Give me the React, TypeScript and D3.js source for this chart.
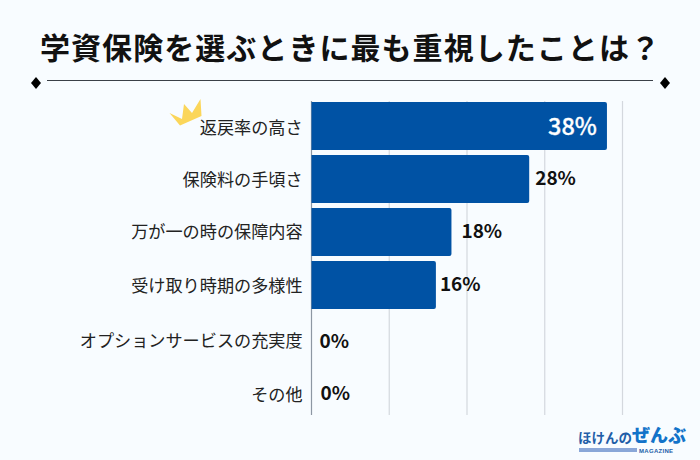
import React from "react";
import * as d3 from "d3";

const title = "学資保険を選ぶときに最も重視したことは？";
const categories = ["返戻率の高さ", "保険料の手頃さ", "万が一の時の保障内容", "受け取り時期の多様性", "オプションサービスの充実度", "その他"];
const values = [38, 28, 18, 16, 0, 0];
const ticks = [0, 10, 20, 30, 40];

const JP = "'Noto Sans CJK JP', 'Noto Sans', sans-serif";
const BLUE = "#0052a4";
const labelShift = [1.5, 1, 0, 1, 3, 4];
const valueShiftY = [0, -1, -1, -1, 3, 2];
const valueShiftX = [-10, 6, 10, 4, 8, 9];

export default function App() {
  const x = d3.scaleLinear().domain([0, 40]).range([311.5, 622.5]);
  const y = d3.scaleBand<string>().domain(categories).range([99.5, 417.5]).paddingInner(5 / 53).paddingOuter(2.5 / 53);
  const crown = d3.line()([[169.5, 113], [182, 119], [184, 104], [192, 113], [200.5, 99], [201.5, 116], [180, 125.5]]) + "Z";
  const diamond = (cx: number, cy: number) => d3.line()([[cx - 5, cy], [cx, cy - 6], [cx + 5, cy], [cx, cy + 6]]) + "Z";
  return (
    <svg width={700} height={460} style={{ position: "fixed", left: 0, top: 0, background: "#f8fcff" }}>
      <text x={350.5} y={59} textAnchor="middle" fontFamily={JP} fontWeight={700} fontSize={30} letterSpacing={1.05} fill="#111">{title}</text>
      <line x1={47} x2={653} y1={80.5} y2={80.5} stroke="#3a4047" strokeWidth={1} />
      <path d={diamond(36, 83)} fill="#000" />
      <path d={diamond(665, 83)} fill="#000" />
      {ticks.map((t, i) => (
        <line key={t} x1={x(t)} x2={x(t)} y1={101} y2={415} stroke={i === 0 ? "#8d97a3" : "#d4d8de"} strokeWidth={1.2} />
      ))}
      {categories.map((c, i) => {
        const yy = y(c)!;
        const bw = y.bandwidth();
        const cy = yy + bw / 2;
        const v = values[i];
        return (
          <g key={c}>
            <text x={302.6} y={cy + 6 + labelShift[i]} textAnchor="end" fontFamily={JP} fontSize={17.15} fill="#222">{c}</text>
            {v > 0 && <path d={`M${x(0)},${yy}H${x(v) - 2}Q${x(v)},${yy} ${x(v)},${yy + 2}V${yy + bw - 2}Q${x(v)},${yy + bw} ${x(v) - 2},${yy + bw}H${x(0)}Z`} fill={BLUE} />}
            {i === 0 ? (
              <text x={x(v) + valueShiftX[i]} y={cy + 8.5} textAnchor="end" fontFamily={JP} fontWeight={500} fontSize={23.5} fill="#fff" stroke="#fff" strokeWidth={0.3}>{v}%</text>
            ) : (
              <text x={x(v) + valueShiftX[i]} y={cy + 7 + valueShiftY[i]} fontFamily={JP} fontWeight={700} fontSize={19} fill="#111">{v}%</text>
            )}
          </g>
        );
      })}
      <path d={crown} fill="#fbd65a" />
      <text x={578} y={443} fontFamily={JP} fontWeight={700} fontSize={13.5} fill="#1f5ea8">ほけんの</text>
      <text x={632} y={442} fontFamily={JP} fontWeight={900} fontSize={18} fill="#1273c9">ぜんぶ</text>
      <rect x={579} y={448} width={58} height={4} fill="#8aa7d8" />
      <text x={639} y={453} fontFamily="'Liberation Sans', sans-serif" fontWeight={700} fontSize={6} letterSpacing={0.3} fill="#1f5ea8">MAGAZINE</text>
    </svg>
  );
}
